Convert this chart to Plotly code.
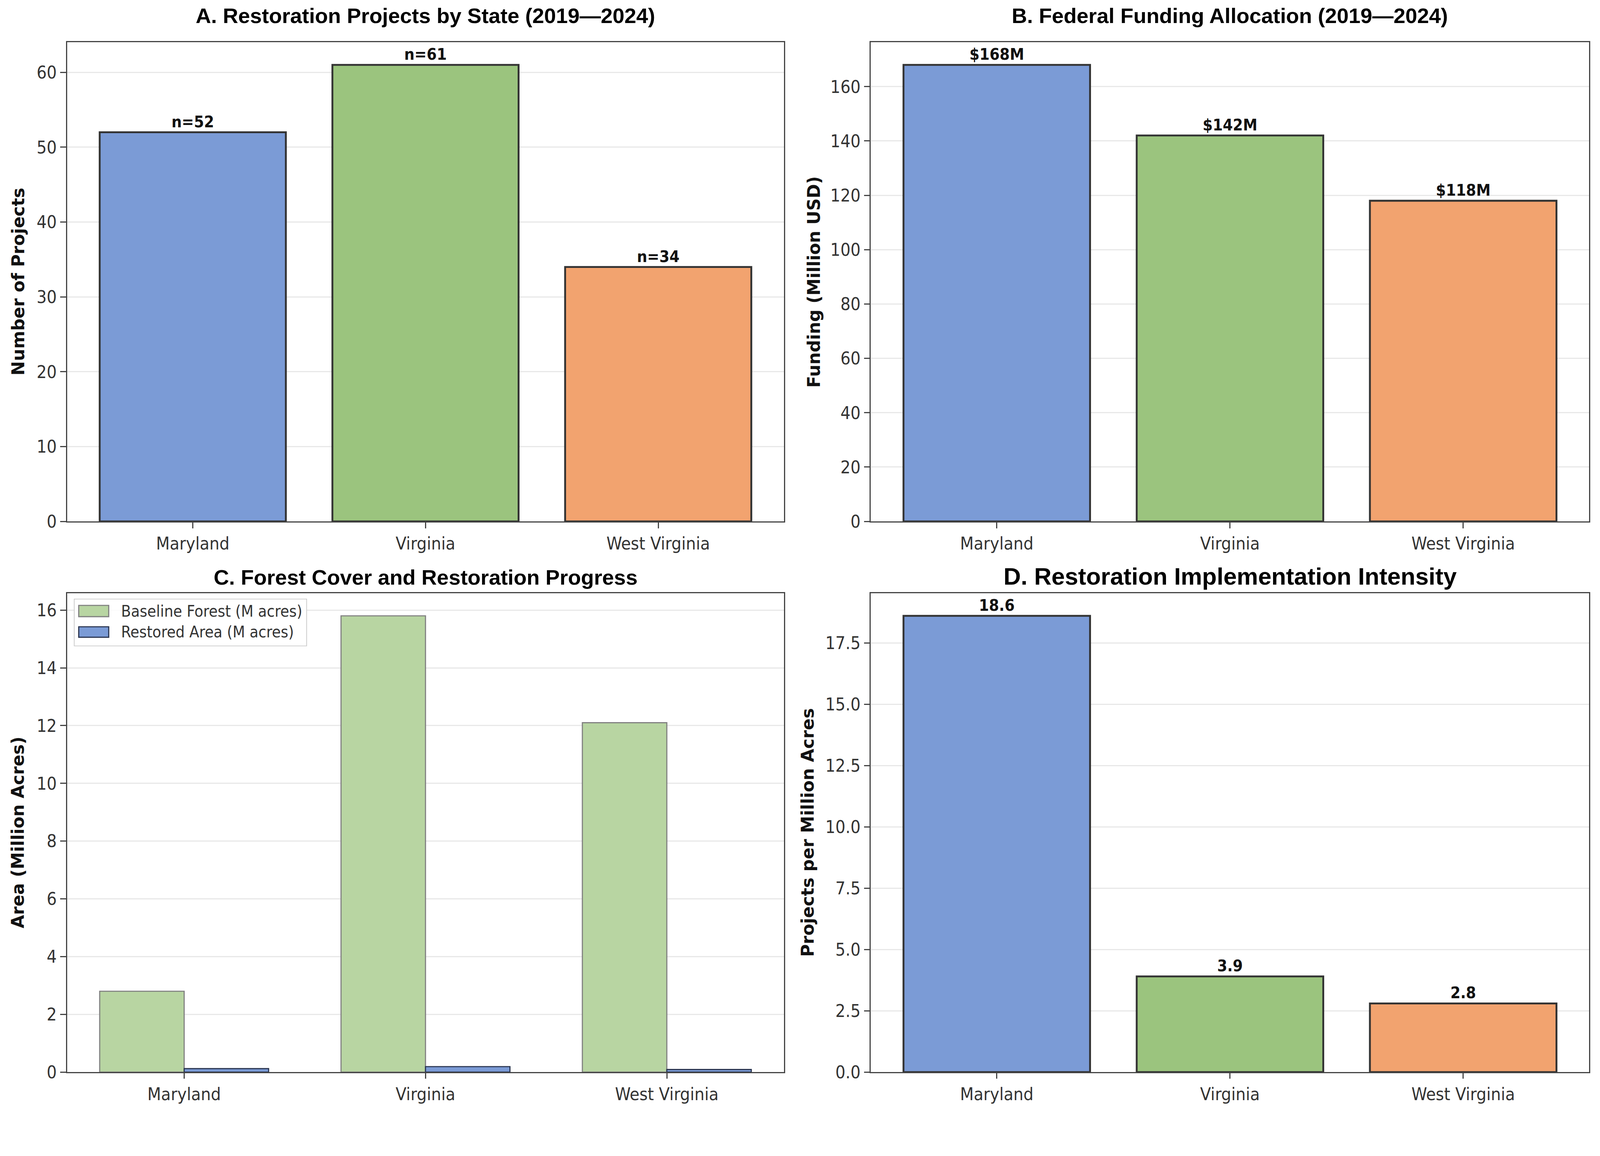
import plotly.graph_objects as go
from plotly.subplots import make_subplots

# data
states = ["Maryland", "Virginia", "West Virginia"]
projects = [52, 61, 34]
funding_musd = [168, 142, 118]
baseline_forest = [2.8, 15.8, 12.1]
restored_area = [0.12, 0.19, 0.09]
intensity = [18.6, 3.9, 2.8]

project_labels = ["n=52", "n=61", "n=34"]
funding_labels = ["$168M", "$142M", "$118M"]
intensity_labels = ["18.6", "3.9", "2.8"]
legend_names = ["Baseline Forest (M acres)", "Restored Area (M acres)"]

bar_colors = ["#7b9bd6", "#9bc47e", "#f2a36f"]
base_green = "#b8d5a2"
rest_blue = "#7b9bd6"

# the photo comes out a bit bigger than layout px, so positions are scaled down
SX = 1 / 1.042
SY = 1 / 1.032
WF = round(4266 * SX) - 16
HF = round(2960 * SY) - 16


def fx(x):
    return (x * SX - 8) / WF


def fy(y):
    return 1 - (y * SY - 8) / HF


def px(v):
    return v * SX


TICK_FONT = "DejaVu Sans Condensed, DejaVu Sans"
TITLE_FONT = "Liberation Sans, Arial"

fig = make_subplots(rows=2, cols=2)

bar_font = dict(family=TICK_FONT, size=px(43), color="#111111", weight="bold")
edge = dict(color="#333333", width=px(5))

fig.add_trace(go.Bar(x=states, y=projects, text=project_labels, textposition="outside",
                     marker=dict(color=bar_colors, line=edge), width=0.8, cliponaxis=False,
                     textfont=bar_font, showlegend=False), row=1, col=1)

fig.add_trace(go.Bar(x=states, y=funding_musd, text=funding_labels, textposition="outside",
                     marker=dict(color=bar_colors, line=edge), width=0.8, cliponaxis=False,
                     textfont=bar_font, showlegend=False), row=1, col=2)

fig.add_trace(go.Bar(x=states, y=baseline_forest, name=legend_names[0], showlegend=False,
                     marker=dict(color=base_green, line=dict(color="#808080", width=px(3))),
                     width=0.35, offset=-0.35), row=2, col=1)
fig.add_trace(go.Bar(x=states, y=restored_area, name=legend_names[1], showlegend=False,
                     marker=dict(color=rest_blue, line=dict(color="#2a3550", width=px(3))),
                     width=0.35, offset=0.0), row=2, col=1)

fig.add_trace(go.Bar(x=states, y=intensity, text=intensity_labels, textposition="outside",
                     marker=dict(color=bar_colors, line=edge), width=0.8, cliponaxis=False,
                     textfont=bar_font, showlegend=False), row=2, col=2)

xl = [fx(179), fx(2091)]
xr = [fx(2323), fx(4239)]
yt = [fy(1391), fy(112)]
yb = [fy(2860), fy(1582)]

axis_common = dict(showline=True, mirror=True, linecolor="#444444", linewidth=px(3),
                   ticks="outside", ticklen=px(15), tickwidth=px(3), tickcolor="#444444",
                   tickfont=dict(family=TICK_FONT, size=px(47), color="#333333"))
grid = dict(showgrid=True, gridcolor="#e8e8e8", gridwidth=px(3), zeroline=False)

fig.update_layout(
    xaxis=dict(domain=xl, range=[-0.54, 2.54], showgrid=False, **axis_common),
    xaxis2=dict(domain=xr, range=[-0.54, 2.54], showgrid=False, **axis_common),
    xaxis3=dict(domain=xl, range=[-0.485, 2.485], showgrid=False, **axis_common),
    xaxis4=dict(domain=xr, range=[-0.54, 2.54], showgrid=False, **axis_common),
    yaxis=dict(domain=yt, range=[0, 64.05], dtick=10, **grid, **axis_common),
    yaxis2=dict(domain=yt, range=[0, 176.4], dtick=20, **grid, **axis_common),
    yaxis3=dict(domain=yb, range=[0, 16.59], dtick=2, **grid, **axis_common),
    yaxis4=dict(domain=yb, range=[0, 19.53], dtick=2.5, tickformat=".1f", **grid, **axis_common),
    barmode="overlay",
    width=WF, height=HF,
    margin=dict(l=0, r=0, t=0, b=0),
    paper_bgcolor="white", plot_bgcolor="white",
    showlegend=False,
)

titles = [
    ("A. Restoration Projects by State (2019—2024)", (179 + 2091) / 2, 42, 56.7),
    ("B. Federal Funding Allocation (2019—2024)", (2323 + 4239) / 2, 42, 56.7),
    ("C. Forest Cover and Restoration Progress", (179 + 2091) / 2, 1540, 56.7),
    ("D. Restoration Implementation Intensity", (2323 + 4239) / 2, 1537, 64),
]
for text, x, y, size in titles:
    fig.add_annotation(text="<b>%s</b>" % text, x=fx(x), y=fy(y), xref="paper", yref="paper",
                       xanchor="center", yanchor="middle", showarrow=False,
                       font=dict(family=TITLE_FONT, size=px(size), color="black"))

ylabels = [
    ("Number of Projects", 48, (112 + 1391) / 2),
    ("Funding (Million USD)", 2171, (112 + 1391) / 2),
    ("Area (Million Acres)", 48, (1582 + 2860) / 2),
    ("Projects per Million Acres", 2155, (1582 + 2860) / 2),
]
for text, x, y in ylabels:
    fig.add_annotation(text="<b>%s</b>" % text, x=fx(x), y=fy(y), xref="paper", yref="paper",
                       xanchor="center", yanchor="middle", showarrow=False, textangle=-90,
                       font=dict(family="DejaVu Sans", size=px(46), color="#111111"))

# legend of panel C drawn by hand so the patches get matplotlib-like size
fig.add_shape(type="rect", xref="paper", yref="paper", x0=fx(198), x1=fx(818), y0=fy(1723), y1=fy(1598),
              line=dict(color="#cccccc", width=px(2)), fillcolor="rgba(255,255,255,0.85)")
patches = [(base_green, "#808080", 1615, 1645), (rest_blue, "#2a3550", 1672, 1700)]
for (fill, line, y0, y1), name in zip(patches, legend_names):
    fig.add_shape(type="rect", xref="paper", yref="paper", x0=fx(210), x1=fx(290), y0=fy(y1), y1=fy(y0),
                  line=dict(color=line, width=px(3)), fillcolor=fill)
    fig.add_annotation(text=name, x=fx(321), y=fy((y0 + y1) / 2), xref="paper", yref="paper",
                       xanchor="left", yanchor="middle", showarrow=False,
                       font=dict(family=TICK_FONT, size=px(42.7), color="#333333"))

fig.write_html("out.html")
